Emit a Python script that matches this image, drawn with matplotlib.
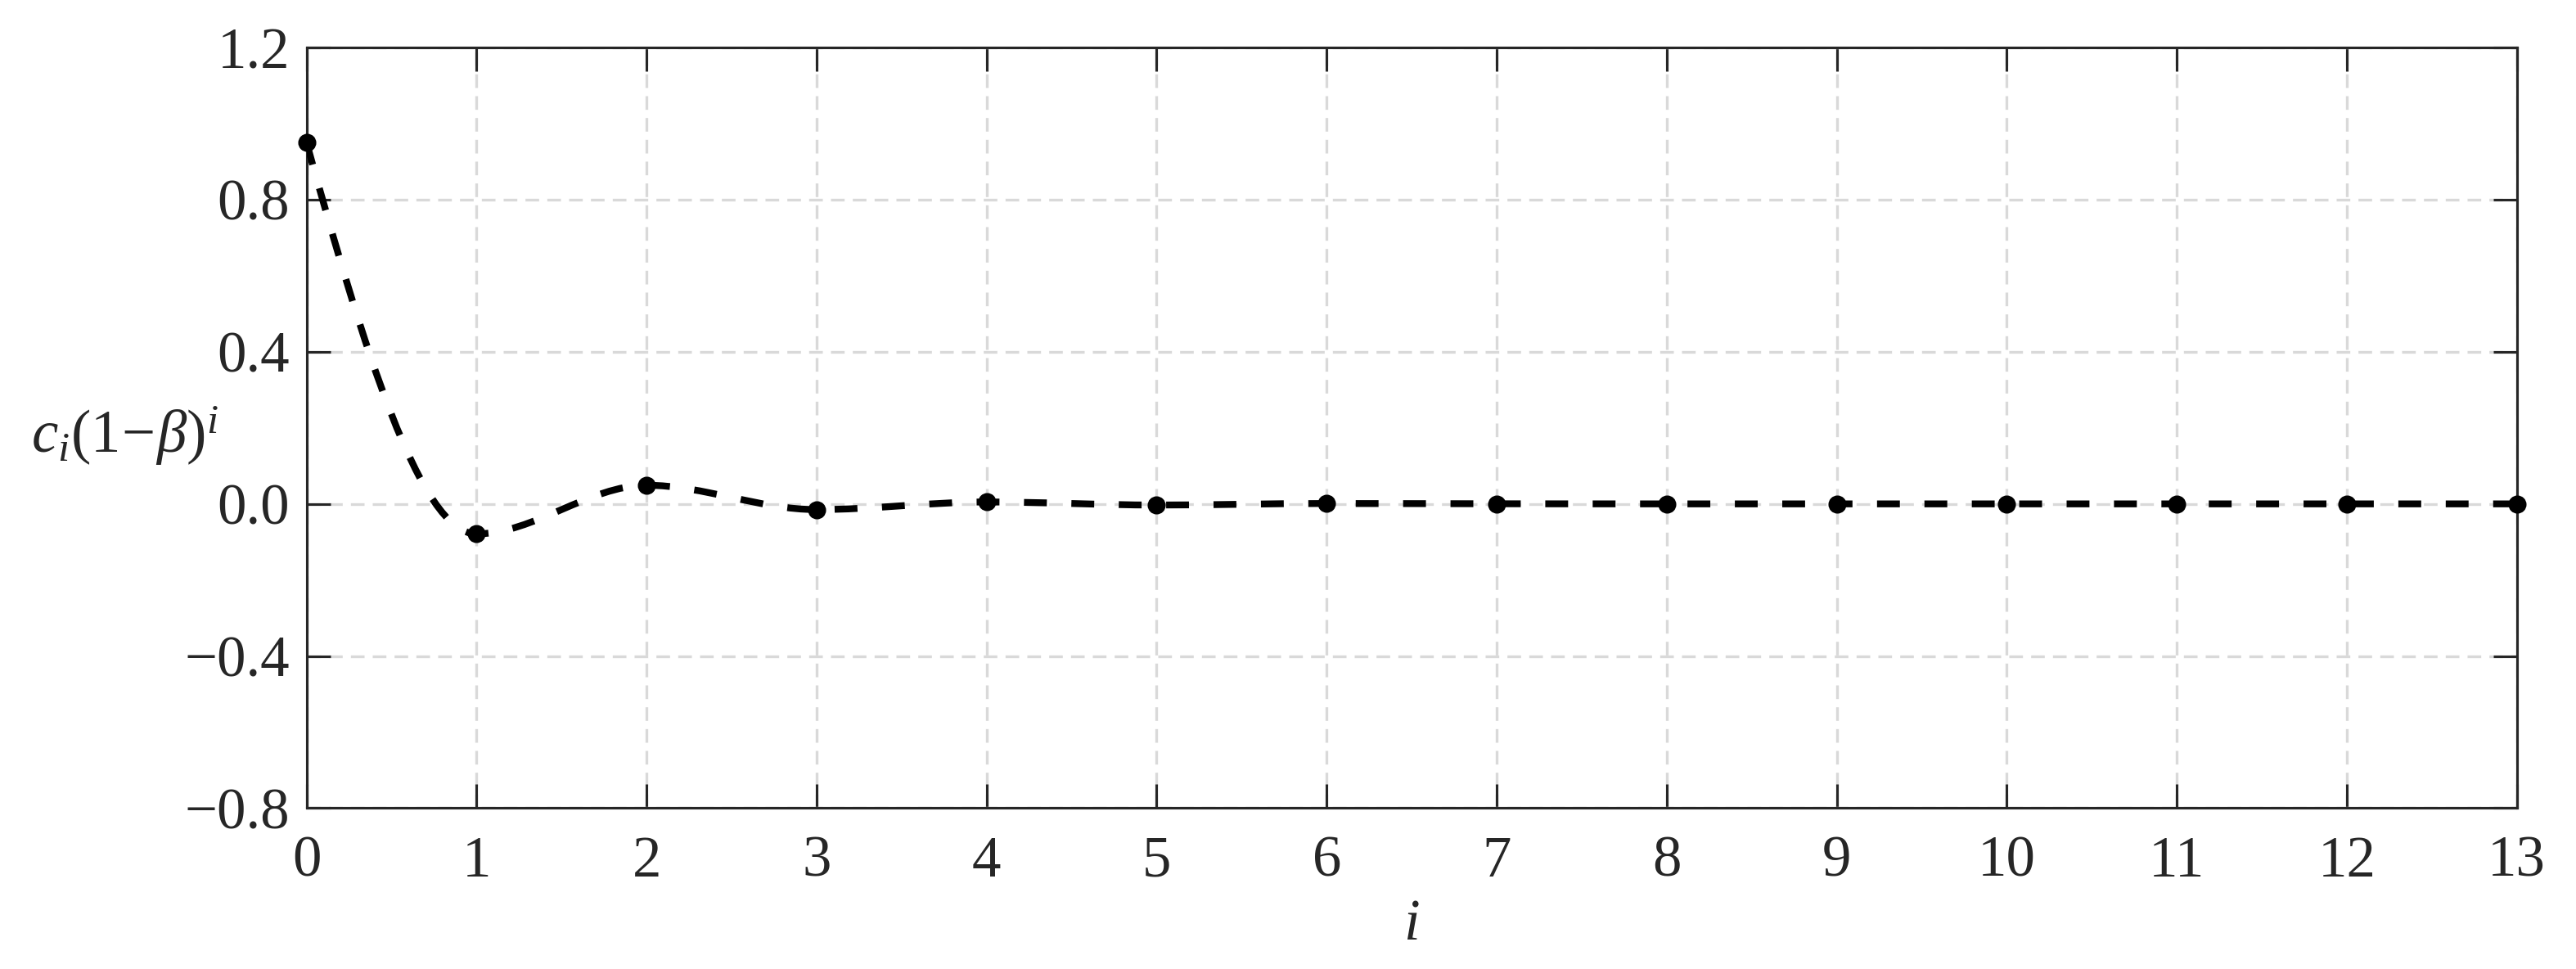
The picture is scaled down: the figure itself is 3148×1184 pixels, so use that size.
import numpy as np
import matplotlib
matplotlib.use("Agg")
import matplotlib.pyplot as plt
from matplotlib.path import Path
from matplotlib.patches import PathPatch

# ---- data ----
i_vals = list(range(14))
coef_vals = [0.95, -0.079, 0.049, -0.015, 0.005, -0.003, 0.001, 0.0003,
             0.0, 0.0, 0.0, 0.0, 0.0, 0.0]
x_ticks = list(range(14))
y_ticks = [-0.8, -0.4, 0.0, 0.4, 0.8, 1.2]

plt.rcParams['font.family'] = ['Liberation Serif', 'DejaVu Serif']
plt.rcParams['mathtext.fontset'] = 'custom'
plt.rcParams['mathtext.rm'] = 'Liberation Serif'
plt.rcParams['mathtext.it'] = 'Liberation Serif:italic'
plt.rcParams['axes.unicode_minus'] = True

DARK = '#262626'


def pchip_slopes(x, y):
    x = np.asarray(x, float); y = np.asarray(y, float)
    h = np.diff(x); d = np.diff(y) / h
    n = len(x)
    m = np.zeros(n)
    for k in range(1, n - 1):
        if d[k - 1] * d[k] > 0:
            w1 = 2 * h[k] + h[k - 1]; w2 = h[k] + 2 * h[k - 1]
            m[k] = (w1 + w2) / (w1 / d[k - 1] + w2 / d[k])
        else:
            m[k] = 0.0

    def end(h0, h1, d0, d1):
        s = ((2 * h0 + h1) * d0 - h0 * d1) / (h0 + h1)
        if np.sign(s) != np.sign(d0):
            s = 0.0
        elif np.sign(d0) != np.sign(d1) and abs(s) > abs(3 * d0):
            s = 3 * d0
        return s
    m[0] = end(h[0], h[1], d[0], d[1])
    m[-1] = end(h[-1], h[-2], d[-1], d[-2])
    return m


fig = plt.figure(figsize=(3148 / 300, 1184 / 300), dpi=300)
ax = fig.add_axes([0.119, 0.166, 0.858, 0.785])

# smooth curve through the points as cubic Bezier segments
xs = np.asarray(i_vals, float); ys = np.asarray(coef_vals, float)
m = pchip_slopes(xs, ys)
verts = [(xs[0], ys[0])]
codes = [Path.MOVETO]
for k in range(len(xs) - 1):
    h = xs[k + 1] - xs[k]
    verts += [(xs[k] + h / 3, ys[k] + m[k] * h / 3),
              (xs[k + 1] - h / 3, ys[k + 1] - m[k + 1] * h / 3),
              (xs[k + 1], ys[k + 1])]
    codes += [Path.CURVE4] * 3
patch = PathPatch(Path(verts, codes), facecolor='none', edgecolor='black',
                  linewidth=2.0, linestyle=(0, (3.35, 3.6)), zorder=3,
                  transform=ax.transData, capstyle='butt')
ax.add_patch(patch)
ax.plot(i_vals, coef_vals, linestyle='none', marker='o', markersize=4.3,
        color='black', zorder=4, clip_on=False)

ax.set_xlim(0, 13)
ax.set_ylim(-0.8, 1.2)
ax.set_xticks(x_ticks)
ax.set_yticks(y_ticks)
ax.set_xticklabels([str(t) for t in x_ticks])
ax.set_yticklabels([f"{t:.1f}".replace('-', '\u2212') for t in y_ticks])

ax.grid(True, color='#d9d9d9', linestyle=(0, (5, 3)), linewidth=0.8, zorder=0)
ax.set_axisbelow(True)

for s in ax.spines.values():
    s.set_color(DARK)
    s.set_linewidth(0.75)
ax.tick_params(direction='in', length=7, width=0.75, color=DARK,
               labelcolor=DARK, labelsize=17, top=True, right=True)
ax.tick_params(axis='x', pad=8)
ax.tick_params(axis='y', pad=5)

ax.set_xlabel(r'$i$', fontsize=17, color=DARK, va='center')
ax.xaxis.set_label_coords(0.5, -0.154)
ax.set_ylabel(r'$c_i(\mathrm{1}\!-\!\beta)^i$', fontsize=17.5, color=DARK,
              rotation=0, ha='center', va='center')
ax.yaxis.set_label_coords(-0.082, 0.491)

fig.savefig('out.png', dpi=300, facecolor='white')
